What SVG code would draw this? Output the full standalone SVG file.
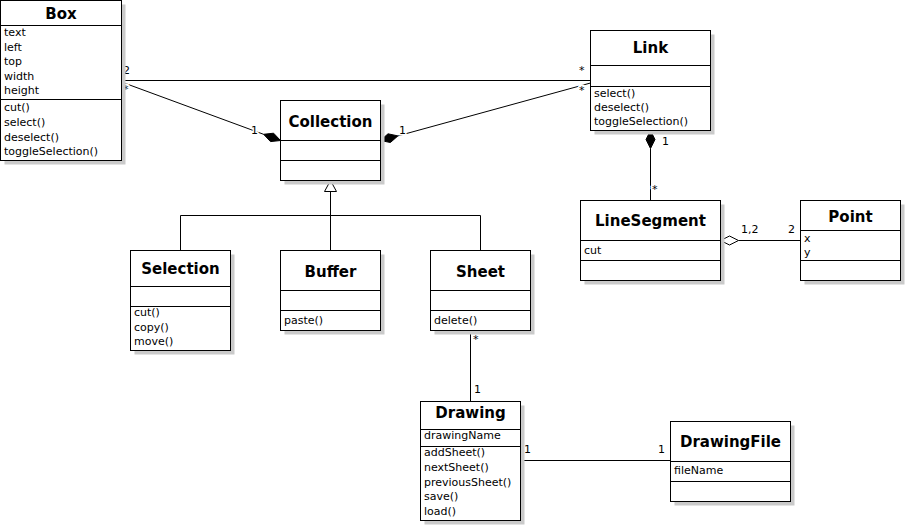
<svg xmlns="http://www.w3.org/2000/svg" width="905" height="525" viewBox="0 0 905 525">
<style>
.bx{fill:#fff;stroke:#000;stroke-width:1}
.sh{fill:#cacaca}
.dv{stroke:#000;stroke-width:1}
.t{font-family:"DejaVu Sans",sans-serif;font-weight:bold;font-size:15px;text-anchor:middle;fill:#000}
.m{font-family:"DejaVu Sans",sans-serif;font-size:11px;fill:#000}
.ln{stroke:#000;stroke-width:1;fill:none}
.fd{fill:#000;stroke:#000;stroke-width:1}
.hd{fill:#fff;stroke:#000;stroke-width:1}
.lb{font-family:"DejaVu Sans",sans-serif;font-size:11px;fill:#000;paint-order:stroke;stroke:#fff;stroke-width:3px}
</style>
<rect width="905" height="525" fill="#fff"/>
<g id="connectors">
<line class="ln" x1="121.5" y1="80.5" x2="590.5" y2="80.5"/>
<line class="ln" x1="121.5" y1="82" x2="263.6" y2="134.3"/>
<polygon class="fd" points="280.5,140.5 270.5,141.6 263.6,134.3 273.6,133.2"/>
<line class="ln" x1="397.9" y1="135.9" x2="590.5" y2="83"/>
<polygon class="fd" points="380.5,140.5 390.4,142.5 397.9,135.9 388,133.8"/>
<line class="ln" x1="650.5" y1="148.5" x2="650.5" y2="200.5"/>
<polygon class="fd" points="650.5,130.5 655,139.5 650.5,148.5 646,139.5"/>
<line class="ln" x1="738.5" y1="240.5" x2="800.5" y2="240.5"/>
<polygon class="hd" points="720.5,240.5 729.5,236 738.5,240.5 729.5,245"/>
<polyline class="ln" points="180.5,250.5 180.5,215.5 480.5,215.5 480.5,250.5"/>
<line class="ln" x1="330.5" y1="191.5" x2="330.5" y2="250.5"/>
<polygon class="hd" points="330.5,180.5 336.5,191.5 324.5,191.5"/>
<line class="ln" x1="470.5" y1="330.5" x2="470.5" y2="401.5"/>
<line class="ln" x1="520.5" y1="460.5" x2="670.5" y2="460.5"/>
<text class="lb" x="123" y="74">2</text>
<text class="lb" x="123" y="93">*</text>
<text class="lb" x="251" y="134">1</text>
<text class="lb" x="399" y="134">1</text>
<text class="lb" x="579" y="74">*</text>
<text class="lb" x="579" y="94">*</text>
<text class="lb" x="662" y="145">1</text>
<text class="lb" x="652" y="193">*</text>
<text class="lb" x="741" y="233">1,2</text>
<text class="lb" x="788" y="233">2</text>
<text class="lb" x="473" y="343">*</text>
<text class="lb" x="474" y="393">1</text>
<text class="lb" x="524" y="453">1</text>
<text class="lb" x="658" y="453">1</text>
</g>
<g id="Box">
<rect class="sh" x="4.5" y="4.5" width="121" height="160"/>
<rect class="bx" x="0.5" y="0.5" width="121" height="160"/>
<line class="dv" x1="0.5" y1="25.5" x2="121.5" y2="25.5"/>
<line class="dv" x1="0.5" y1="99.5" x2="121.5" y2="99.5"/>
<text class="t" x="61" y="19">Box</text>
<text class="m" x="4" y="36">text</text>
<text class="m" x="4" y="51">left</text>
<text class="m" x="4" y="65">top</text>
<text class="m" x="4" y="80">width</text>
<text class="m" x="4" y="94">height</text>
<text class="m" x="4" y="111">cut()</text>
<text class="m" x="4" y="126">select()</text>
<text class="m" x="4" y="141">deselect()</text>
<text class="m" x="4" y="155">toggleSelection()</text>
</g>
<g id="Link">
<rect class="sh" x="594.5" y="34.5" width="120" height="100"/>
<rect class="bx" x="590.5" y="30.5" width="120" height="100"/>
<line class="dv" x1="590.5" y1="65.5" x2="710.5" y2="65.5"/>
<line class="dv" x1="590.5" y1="86.5" x2="710.5" y2="86.5"/>
<text class="t" x="650.5" y="53">Link</text>
<text class="m" x="594" y="97">select()</text>
<text class="m" x="594" y="111">deselect()</text>
<text class="m" x="594" y="125">toggleSelection()</text>
</g>
<g id="Collection">
<rect class="sh" x="284.5" y="104.5" width="100" height="80"/>
<rect class="bx" x="280.5" y="100.5" width="100" height="80"/>
<line class="dv" x1="280.5" y1="140.5" x2="380.5" y2="140.5"/>
<line class="dv" x1="280.5" y1="160.5" x2="380.5" y2="160.5"/>
<text class="t" x="330.5" y="127">Collection</text>
</g>
<g id="LineSegment">
<rect class="sh" x="584.5" y="204.5" width="140" height="80"/>
<rect class="bx" x="580.5" y="200.5" width="140" height="80"/>
<line class="dv" x1="580.5" y1="240.5" x2="720.5" y2="240.5"/>
<line class="dv" x1="580.5" y1="260.5" x2="720.5" y2="260.5"/>
<text class="t" x="650.5" y="226">LineSegment</text>
<text class="m" x="584" y="254">cut</text>
</g>
<g id="Point">
<rect class="sh" x="804.5" y="204.5" width="100" height="80"/>
<rect class="bx" x="800.5" y="200.5" width="100" height="80"/>
<line class="dv" x1="800.5" y1="230.5" x2="900.5" y2="230.5"/>
<line class="dv" x1="800.5" y1="260.5" x2="900.5" y2="260.5"/>
<text class="t" x="850.5" y="222">Point</text>
<text class="m" x="804" y="242">x</text>
<text class="m" x="804" y="256">y</text>
</g>
<g id="Selection">
<rect class="sh" x="134.5" y="254.5" width="100" height="100"/>
<rect class="bx" x="130.5" y="250.5" width="100" height="100"/>
<line class="dv" x1="130.5" y1="286.5" x2="230.5" y2="286.5"/>
<line class="dv" x1="130.5" y1="306.5" x2="230.5" y2="306.5"/>
<text class="t" x="180.5" y="274">Selection</text>
<text class="m" x="134" y="316">cut()</text>
<text class="m" x="134" y="331">copy()</text>
<text class="m" x="134" y="345">move()</text>
</g>
<g id="Buffer">
<rect class="sh" x="284.5" y="254.5" width="100" height="80"/>
<rect class="bx" x="280.5" y="250.5" width="100" height="80"/>
<line class="dv" x1="280.5" y1="290.5" x2="380.5" y2="290.5"/>
<line class="dv" x1="280.5" y1="310.5" x2="380.5" y2="310.5"/>
<text class="t" x="330.5" y="277">Buffer</text>
<text class="m" x="284" y="324">paste()</text>
</g>
<g id="Sheet">
<rect class="sh" x="434.5" y="254.5" width="100" height="80"/>
<rect class="bx" x="430.5" y="250.5" width="100" height="80"/>
<line class="dv" x1="430.5" y1="290.5" x2="530.5" y2="290.5"/>
<line class="dv" x1="430.5" y1="310.5" x2="530.5" y2="310.5"/>
<text class="t" x="480.5" y="277">Sheet</text>
<text class="m" x="434" y="324">delete()</text>
</g>
<g id="Drawing">
<rect class="sh" x="424.5" y="405.5" width="100" height="119"/>
<rect class="bx" x="420.5" y="401.5" width="100" height="119"/>
<line class="dv" x1="420.5" y1="429.5" x2="520.5" y2="429.5"/>
<line class="dv" x1="420.5" y1="446.5" x2="520.5" y2="446.5"/>
<text class="t" x="470.5" y="418">Drawing</text>
<text class="m" x="424" y="439">drawingName</text>
<text class="m" x="424" y="456">addSheet()</text>
<text class="m" x="424" y="471">nextSheet()</text>
<text class="m" x="424" y="486">previousSheet()</text>
<text class="m" x="424" y="500">save()</text>
<text class="m" x="424" y="515">load()</text>
</g>
<g id="DrawingFile">
<rect class="sh" x="674.5" y="425.5" width="120" height="80"/>
<rect class="bx" x="670.5" y="421.5" width="120" height="80"/>
<line class="dv" x1="670.5" y1="461.5" x2="790.5" y2="461.5"/>
<line class="dv" x1="670.5" y1="481.5" x2="790.5" y2="481.5"/>
<text class="t" x="730.5" y="447">DrawingFile</text>
<text class="m" x="674" y="474">fileName</text>
</g>
</svg>
